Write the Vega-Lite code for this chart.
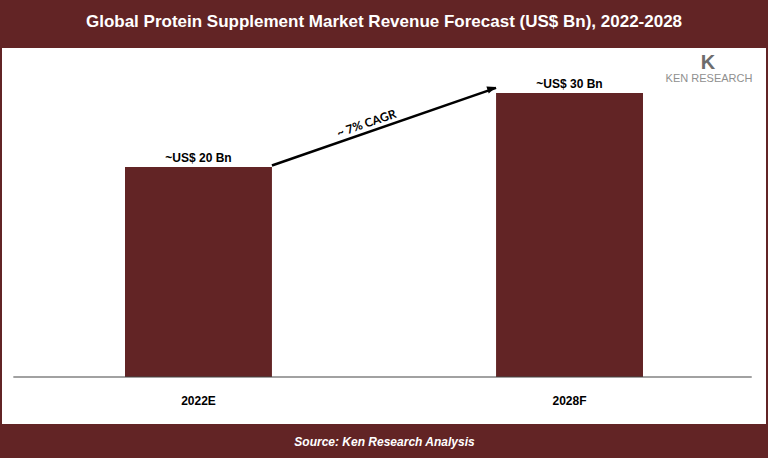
{
  "$schema": "https://vega.github.io/schema/vega-lite/v6.json",
  "width": 764,
  "height": 376,
  "autosize": {"type": "none"},
  "padding": {"left": 2, "right": 2, "top": 48, "bottom": 34},
  "background": "#622425",
  "view": {"fill": "white", "stroke": null},
  "title": {
    "text": "Global Protein Supplement Market Revenue Forecast (US$ Bn), 2022-2028",
    "color": "white",
    "font": "Liberation Sans Narrow, Liberation Sans",
    "fontSize": 17,
    "fontWeight": "bold",
    "anchor": "middle",
    "frame": "group",
    "offset": 17
  },
  "data": {
    "values": [
      {"year": "2022E", "value": 20, "label": "~US$ 20 Bn"},
      {"year": "2028F", "value": 30, "label": "~US$ 30 Bn"}
    ]
  },
  "layer": [
    {
      "mark": {"type": "bar", "color": "#622425"},
      "encoding": {
        "x": {
          "field": "year",
          "type": "nominal",
          "scale": {"paddingInner": 0.604, "paddingOuter": 0.3315},
          "axis": {
            "offset": -47,
            "domain": false,
            "ticks": false,
            "labelAngle": 0,
            "labelFont": "Liberation Sans Narrow, Liberation Sans",
            "labelFontSize": 12,
            "labelFontWeight": "bold",
            "labelColor": "black",
            "labelBaseline": "middle",
            "labelPadding": 23,
            "title": "Source: Ken Research Analysis",
            "titleColor": "white",
            "titleFont": "Liberation Sans Narrow, Liberation Sans",
            "titleFontSize": 12,
            "titleFontStyle": "italic",
            "titleFontWeight": "bold",
            "titleBaseline": "middle",
            "titleY": 64
          }
        },
        "y": {
          "field": "value",
          "type": "quantitative",
          "scale": {"domain": [-14.73, 36.08], "zero": false, "nice": false},
          "axis": null
        },
        "y2": {"datum": -8.38}
      }
    },
    {
      "mark": {
        "type": "text",
        "dy": -9,
        "baseline": "middle",
        "font": "Liberation Sans Narrow, Liberation Sans",
        "fontSize": 12,
        "fontWeight": "bold",
        "color": "black"
      },
      "encoding": {
        "x": {"field": "year", "type": "nominal"},
        "y": {"field": "value", "type": "quantitative"},
        "text": {"field": "label"}
      }
    },
    {
      "data": {"values": [{"cagr": "~ 7% CAGR", "logo": "KEN RESEARCH", "k": "K"}]},
      "layer": [
        {
          "mark": {"type": "rule", "color": "#444444", "strokeWidth": 1.2},
          "encoding": {
            "x": {"datum": "2022E", "bandPosition": -0.76},
            "x2": {"datum": "2028F", "bandPosition": 1.74},
            "y": {"datum": -8.38}
          }
        },
        {
          "mark": {"type": "rule", "color": "black", "strokeWidth": 2.5},
          "encoding": {
            "x": {"datum": "2022E", "bandPosition": 1},
            "x2": {"datum": "2028F", "bandPosition": 0},
            "y": {"datum": 20.2},
            "y2": {"datum": 30.7}
          }
        },
        {
          "mark": {
            "type": "point",
            "shape": "M0,0L-2,-0.8L-2,0.8Z",
            "filled": true,
            "color": "black",
            "opacity": 1,
            "size": 81,
            "angle": 341
          },
          "encoding": {
            "x": {"datum": "2028F", "bandPosition": 0},
            "y": {"datum": 30.8}
          }
        },
        {
          "mark": {
            "type": "text",
            "angle": 341,
            "dx": 103,
            "dy": -9,
            "align": "center",
            "baseline": "middle",
            "font": "Lato",
            "fontSize": 12,
            "fontWeight": "bold",
            "color": "black"
          },
          "encoding": {
            "x": {"datum": "2022E", "bandPosition": 1},
            "y": {"datum": 20.2},
            "text": {"field": "cagr"}
          }
        },
        {
          "mark": {
            "type": "text",
            "dx": 66,
            "align": "center",
            "baseline": "middle",
            "font": "Liberation Sans",
            "fontSize": 11,
            "color": "#8f8f8f"
          },
          "encoding": {
            "x": {"datum": "2028F", "bandPosition": 1},
            "y": {"datum": 31.9},
            "text": {"field": "logo"}
          }
        },
        {
          "mark": {
            "type": "text",
            "dx": 65,
            "align": "center",
            "baseline": "middle",
            "font": "Liberation Sans",
            "fontSize": 20,
            "fontWeight": "bold",
            "color": "#6d6d6d"
          },
          "encoding": {
            "x": {"datum": "2028F", "bandPosition": 1},
            "y": {"datum": 34.0},
            "text": {"field": "k"}
          }
        }
      ]
    }
  ]
}
